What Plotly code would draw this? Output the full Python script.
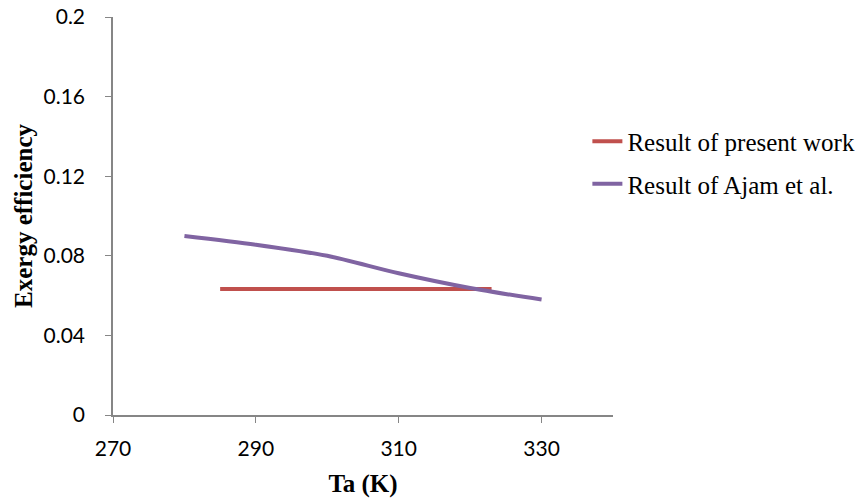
import plotly.graph_objects as go

# Data
present_x = [285, 323]
present_y = [0.0633, 0.0633]
ajam_x = [280, 290, 300, 310, 320, 330]
ajam_y = [0.0900, 0.0856, 0.0800, 0.0712, 0.0638, 0.0580]
x_ticks = [270, 290, 310, 330]
y_ticks = [0, 0.04, 0.08, 0.12, 0.16, 0.2]
y_tick_labels = ["0", "0.04", "0.08", "0.12", "0.16", "0.2"]

fig = go.Figure()
fig.add_trace(go.Scatter(x=present_x, y=present_y, mode="lines",
                         name="Result of present work", legendgroup="a",
                         line=dict(color="#C0504D", width=4)))
fig.add_trace(go.Scatter(x=ajam_x, y=ajam_y, mode="lines",
                         name="Result of Ajam et al.", legendgroup="b",
                         line=dict(color="#8064A2", width=4, shape="spline", smoothing=0.8)))

axis_color = "#868686"
tick_font = dict(family="Lato", size=21, color="black")
title_font = dict(family="Liberation Serif", size=25, color="black")
fig.update_layout(
    width=860, height=498,
    margin=dict(l=113, r=247, t=17, b=83, autoexpand=False),
    paper_bgcolor="white", plot_bgcolor="white",
    showlegend=True,
    legend=dict(xref="container", yref="container", x=0.683, y=0.762,
                xanchor="left", yanchor="top",
                font=dict(family="Liberation Serif", size=25, color="black"),
                bgcolor="rgba(0,0,0,0)", tracegroupgap=7, itemwidth=30),
    xaxis=dict(range=[270, 340], tickvals=x_ticks, ticktext=[str(v) for v in x_ticks],
               showgrid=False, zeroline=False, showline=True, linecolor=axis_color,
               linewidth=1.5, ticks="outside", ticklen=6, tickcolor=axis_color,
               tickfont=tick_font, automargin=False, ticklabelstandoff=8,
               title=dict(text="<b>Ta (K)</b>", font=title_font, standoff=17)),
    yaxis=dict(range=[0, 0.2], tickvals=y_ticks, ticktext=y_tick_labels,
               showgrid=False, zeroline=False, showline=True, linecolor=axis_color,
               linewidth=1.5, ticks="outside", ticklen=6, tickcolor=axis_color,
               tickfont=tick_font, automargin=False, ticklabelstandoff=16,
               title=dict(text="<b>Exergy efficiency</b>", font=title_font, standoff=4)),
)

fig.write_html("out.html", config={"displayModeBar": False},
               post_script="document.body.style.margin='0';document.body.style.overflow='hidden';")
